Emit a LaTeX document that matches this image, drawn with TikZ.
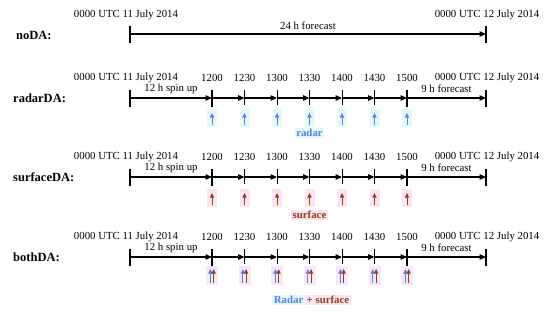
\documentclass[tikz,border=0pt]{standalone}
\usepackage{fontspec}
\setmainfont{Liberation Serif}
\usetikzlibrary{arrows.meta}

\definecolor{radarblue}{HTML}{5783DD}
\definecolor{radarbg}{HTML}{E2F8FB}
\definecolor{sfcbrown}{HTML}{8A4513}
\definecolor{sfcbg}{HTML}{FBE3F2}
\definecolor{bothbg}{HTML}{F6E6F7}

\tikzset{
  timeline/.style={line width=1.3pt,-{Triangle[length=6.5pt,width=5.5pt]}},
  major/.style={line width=1.6pt},
  minor/.style={line width=0.5pt},
  runname/.style={font=\fontsize{12.5}{15}\selectfont\bfseries,anchor=west,inner sep=0pt},
  stamp/.style={font=\fontsize{10.8}{13}\selectfont,inner sep=0pt},
  obsarrow/.style={line width=1pt,-{Triangle[length=4.5pt,width=4pt]}},
  obsname/.style={font=\fontsize{10.8}{13}\selectfont\bfseries,inner sep=1.5pt},
}

\begin{document}
\begin{tikzpicture}[x=1pt,y=-1pt]
  \useasboundingbox (0,0) rectangle (550,314);

  % noDA
  \node[runname] (noDA) at (16,35) {noDA:};
  \coordinate (n0) at (130,34);
  \coordinate (n1) at (486,34);
  \draw[timeline] (n0) -- node[stamp,yshift=8pt] (n24) {24 h forecast} (n1);
  \foreach \c in {n0,n1}
    \draw[major] ([yshift=8.5pt]\c) -- ([yshift=-8.5pt]\c);
  \node[stamp] (n0t) at (126,15) {0000 UTC 11 July 2014};
  \node[stamp] (n1t) at (487,15) {0000 UTC 12 July 2014};

  % DA runs
  \foreach \r/\y/\lab in {r/98/radarDA:, s/177/surfaceDA:, b/257/bothDA:} {
    \node[runname] (\r DA) at (13,\y) {\lab};
    \coordinate (\r0) at (130,\y);
    \coordinate (\r8) at (486,\y);
    \foreach \t/\x [count=\i] in {1200/212,1230/244.5,1300/277,1330/309.5,1400/342,1430/374.5,1500/407} {
      \coordinate (\r\i) at (\x,\y);
      \node[stamp] (\r t\i) at ([yshift=20pt]\r\i) {\t};
    }
    \foreach \i [evaluate=\i as \j using int(\i+1)] in {0,...,7}
      \draw[timeline] (\r\i) -- (\r\j);
    \foreach \i in {0,1,7,8}
      \draw[major] ([yshift=8.5pt]\r\i) -- ([yshift=-8.5pt]\r\i);
    \foreach \i in {2,...,6}
      \draw[minor] ([yshift=8pt]\r\i) -- ([yshift=-7pt]\r\i);
    \path (\r0) -- node[stamp,yshift=9pt] (\r spin) {12 h spin up} (\r1);
    \path (\r7) -- node[stamp,yshift=9pt] (\r fc) {9 h forecast} (\r8);
    \node[stamp] (\r0t) at (126,\y-20) {0000 UTC 11 July 2014};
    \node[stamp] (\r8t) at (487,\y-20) {0000 UTC 12 July 2014};
  }

  % observations
  \foreach \i in {1,...,7} {
    \fill[radarbg] ([xshift=-5pt,yshift=-11pt]r\i) rectangle ([xshift=5pt,yshift=-29pt]r\i);
    \draw[obsarrow,radarblue] ([yshift=-27pt]r\i) -- ([yshift=-15pt]r\i);
    \fill[sfcbg] ([xshift=-5pt,yshift=-12pt]s\i) rectangle ([xshift=5pt,yshift=-30pt]s\i);
    \draw[obsarrow,sfcbrown] ([yshift=-28pt]s\i) -- ([yshift=-16pt]s\i);
    \fill[bothbg] ([xshift=-6pt,yshift=-9pt]b\i) rectangle ([xshift=6pt,yshift=-28pt]b\i);
    \draw[obsarrow,radarblue] ([xshift=-1.6pt,yshift=-26pt]b\i) -- ([xshift=-1.6pt,yshift=-12pt]b\i);
    \draw[obsarrow,sfcbrown] ([xshift=1.6pt,yshift=-26pt]b\i) -- ([xshift=1.6pt,yshift=-12pt]b\i);
  }
  \node[obsname,fill=radarbg,text=radarblue] (radar) at ([yshift=-35pt]r4) {radar};
  \node[obsname,fill=sfcbg,text=sfcbrown] (surface) at ([yshift=-38pt]s4) {surface};
  \node[obsname,fill=radarbg,text=radarblue,anchor=east] (bothR) at (305,300) {Radar};
  \node[obsname,fill=sfcbg,text=sfcbrown,anchor=west] (bothS) at (bothR.east) {+ surface};
\end{tikzpicture}
\end{document}
